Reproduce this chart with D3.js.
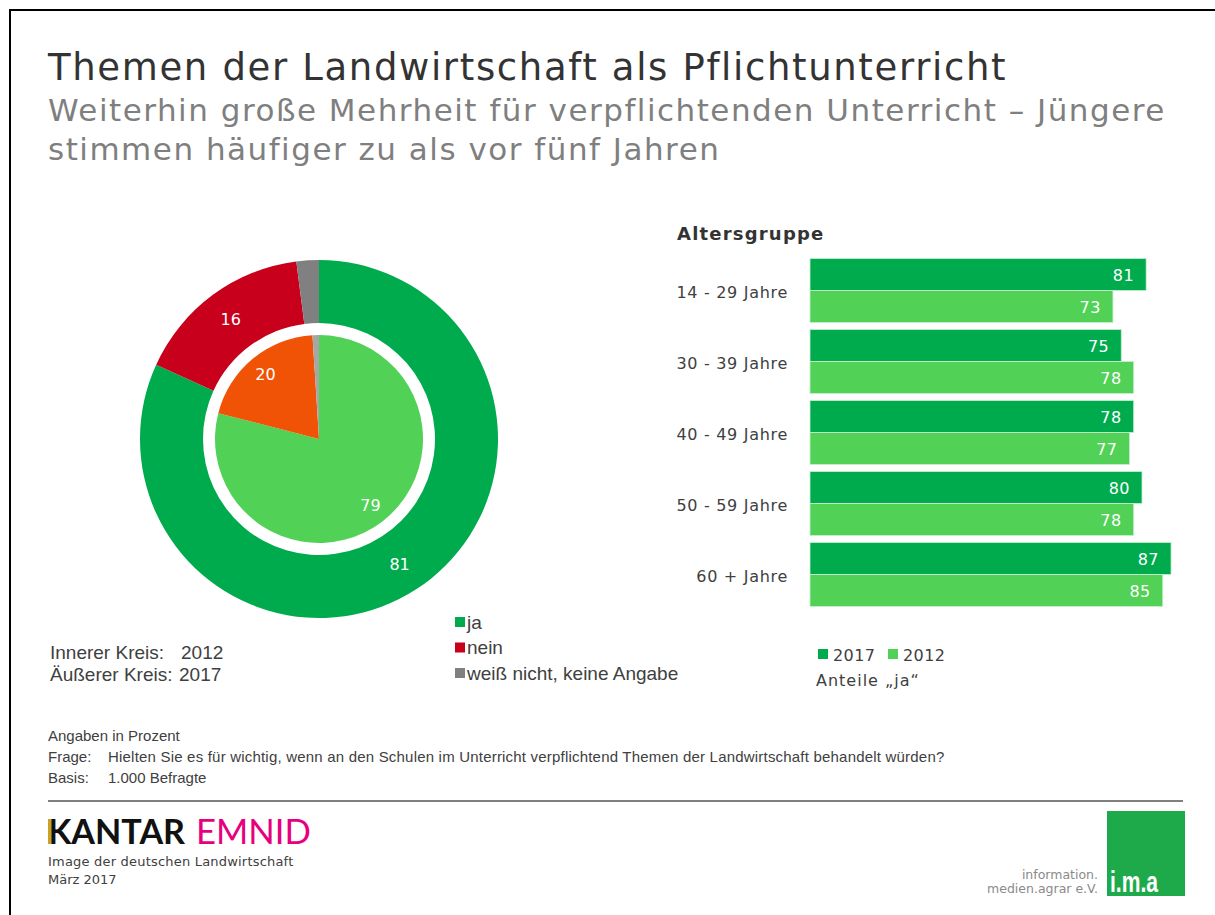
<!DOCTYPE html>
<html>
<head>
<meta charset="utf-8">
<script src="https://cdn.jsdelivr.net/npm/d3@7"></script>
<style>
  body { margin: 0; background: #fff; }
  svg { display: block; }
  .arial { font-family: "Liberation Sans", Arial, sans-serif; }
</style>
</head>
<body>
<div id="chart"></div>
<script>
// --- data ---
const pieCategories = ["ja", "nein", "weiß nicht, keine Angabe"];
const outer2017 = [81, 16, 2];
const inner2012 = [79, 20, 1];

const ageGroups = ["14 - 29 Jahre", "30 - 39 Jahre", "40 - 49 Jahre", "50 - 59 Jahre", "60 + Jahre"];
const years = ["2017", "2012"];
const ja2017 = [81, 75, 78, 80, 87];
const ja2012 = [73, 78, 77, 78, 85];

const outerColors = ["#00AB4E", "#C8001C", "#808080"];
const innerColors = ["#51D155", "#F05305", "#A6A6A6"];
const barColors = { "2017": "#00AB4E", "2012": "#51D155" };

const W = 1215, H = 915;
const FONT = "'DejaVu Sans', Verdana, sans-serif";

const svg = d3.select("#chart").append("svg").attr("width", W).attr("height", H)
  .style("font-family", FONT);

// frame (only top and left visible)
svg.append("path").attr("d", `M10,${H + 5} V10 H${W + 5}`)
  .attr("fill", "none").attr("stroke", "#000").attr("stroke-width", 2);

// title
svg.append("text").attr("x", 48).attr("y", 80).attr("font-size", 37).attr("fill", "#333")
  .attr("letter-spacing", 1.65).text("Themen der Landwirtschaft als Pflichtunterricht");
svg.append("text").attr("x", 48).attr("y", 121).attr("font-size", 31).attr("fill", "#7f7f7f")
  .attr("letter-spacing", 1.5).text("Weiterhin große Mehrheit für verpflichtenden Unterricht – Jüngere");
svg.append("text").attr("x", 48).attr("y", 160).attr("font-size", 31).attr("fill", "#7f7f7f")
  .attr("letter-spacing", 1.5).text("stimmen häufiger zu als vor fünf Jahren");

/* ========== PIE / DONUT ========== */
const cx = 319, cy = 439;
const pie = d3.pie().sort(null).value((d) => d.v);
const gPie = svg.append("g").attr("transform", `translate(${cx},${cy})`);

const outerArc = d3.arc().innerRadius(116).outerRadius(179);
const innerArc = d3.arc().innerRadius(0).outerRadius(104);
const outerLabelArc = d3.arc().innerRadius(149).outerRadius(149);
const innerLabelArc = d3.arc().innerRadius(84).outerRadius(84);

const outerData = pie(outer2017.map((v, i) => ({ v, i })));
const innerData = pie(inner2012.map((v, i) => ({ v, i })));

gPie.selectAll("path.outer").data(outerData).enter().append("path")
  .attr("class", "outer").attr("d", outerArc).attr("fill", (d) => outerColors[d.data.i]);
gPie.selectAll("path.inner").data(innerData).enter().append("path")
  .attr("class", "inner").attr("d", innerArc).attr("fill", (d) => innerColors[d.data.i]);

gPie.selectAll("text.outer").data(outerData.filter((d) => d.data.v >= 5)).enter().append("text")
  .attr("transform", (d) => `translate(${outerLabelArc.centroid(d)})`)
  .attr("text-anchor", "middle").attr("dy", "0.36em")
  .attr("font-size", 16).attr("fill", "#fff").text((d) => d.data.v);
gPie.selectAll("text.inner").data(innerData.filter((d) => d.data.v >= 5)).enter().append("text")
  .attr("transform", (d) => `translate(${innerLabelArc.centroid(d)})`)
  .attr("text-anchor", "middle").attr("dy", "0.36em")
  .attr("font-size", 16).attr("fill", "#fff").text((d) => d.data.v);

// pie legend
const pieLeg = svg.append("g").attr("class", "arial");
pieCategories.forEach((c, i) => {
  const y = 622 + i * 25.5;
  pieLeg.append("rect").attr("x", 455).attr("y", y - 5).attr("width", 10).attr("height", 10)
    .attr("fill", outerColors[i]);
  pieLeg.append("text").attr("x", 467).attr("y", y + 6.5).attr("font-size", 19).attr("fill", "#404040")
    .text(c);
});

const ringLeg = svg.append("g").attr("class", "arial").attr("font-size", 19).attr("fill", "#404040");
ringLeg.append("text").attr("x", 50).attr("y", 659).text("Innerer Kreis:");
ringLeg.append("text").attr("x", 181).attr("y", 659).text("2012");
ringLeg.append("text").attr("x", 50).attr("y", 681).text("Äußerer Kreis:");
ringLeg.append("text").attr("x", 179).attr("y", 681).text("2017");

/* ========== BARS ========== */
const x = d3.scaleLinear().domain([0, 100]).range([810, 810 + 415]);
const y0 = d3.scaleBand().domain(ageGroups).range([258.5, 258.5 + 5 * 71 - 7])
  .paddingInner(7 / 71).paddingOuter(0);
const y1 = d3.scaleBand().domain(years).range([0, y0.bandwidth()]);

svg.append("text").attr("x", 677).attr("y", 240).attr("font-size", 18).attr("font-weight", "bold")
  .attr("letter-spacing", 1.2).attr("fill", "#333").text("Altersgruppe");

const barRows = ageGroups.map((g, i) => ({ group: g, values: [
  { year: "2017", v: ja2017[i] },
  { year: "2012", v: ja2012[i] },
] }));

const groups = svg.selectAll("g.grp").data(barRows).enter().append("g")
  .attr("class", "grp").attr("transform", (d) => `translate(0,${y0(d.group)})`);

groups.append("text")
  .attr("x", 788).attr("y", y0.bandwidth() / 2 + 1.5).attr("dy", "0.36em")
  .attr("text-anchor", "end").attr("font-size", 16).attr("letter-spacing", 0.7).attr("fill", "#404040")
  .text((d) => d.group);

groups.selectAll("rect").data((d) => d.values).enter().append("rect")
  .attr("x", x(0))
  .attr("y", (d) => y1(d.year))
  .attr("width", (d) => x(d.v) - x(0))
  .attr("height", y1.bandwidth())
  .attr("fill", (d) => barColors[d.year])
  .attr("stroke", "#c9efd3").attr("stroke-width", 0.8);

groups.selectAll("text.val").data((d) => d.values).enter().append("text")
  .attr("class", "val")
  .attr("x", (d) => x(d.v) - 12)
  .attr("y", (d) => y1(d.year) + y1.bandwidth() / 2 + 0.5).attr("dy", "0.36em")
  .attr("text-anchor", "end").attr("font-size", 16).attr("letter-spacing", 0.5).attr("fill", "#fff")
  .text((d) => d.v);

// bar legend
years.forEach((yr, i) => {
  const lx = 818 + i * 70;
  svg.append("rect").attr("x", lx).attr("y", 649).attr("width", 10).attr("height", 10)
    .attr("fill", barColors[yr]);
  svg.append("text").attr("x", lx + 15).attr("y", 661).attr("font-size", 16).attr("letter-spacing", 0.4)
    .attr("fill", "#404040").text(yr);
});
svg.append("text").attr("x", 816).attr("y", 686).attr("font-size", 16).attr("letter-spacing", 1)
  .attr("fill", "#404040").text("Anteile „ja“");

/* ========== FOOTNOTES ========== */
const foot = svg.append("g").attr("class", "arial").attr("font-size", 15).attr("fill", "#404040");
foot.append("text").attr("x", 48).attr("y", 741).text("Angaben in Prozent");
foot.append("text").attr("x", 48).attr("y", 762).text("Frage:");
foot.append("text").attr("x", 108).attr("y", 762).attr("letter-spacing", 0.2)
  .text("Hielten Sie es für wichtig, wenn an den Schulen im Unterricht verpflichtend Themen der Landwirtschaft behandelt würden?");
foot.append("text").attr("x", 48).attr("y", 783).text("Basis:");
foot.append("text").attr("x", 108).attr("y", 783).text("1.000 Befragte");

svg.append("line").attr("x1", 48).attr("x2", 1183).attr("y1", 801).attr("y2", 801)
  .attr("stroke", "#555").attr("stroke-width", 1.5);

// Kantar Emnid logo
svg.append("text").attr("x", 48).attr("y", 844).attr("font-size", 35).attr("font-weight", "bold")
  .attr("fill", "#111").style("font-family", "Lato, 'Liberation Sans', sans-serif")
  .attr("textLength", 137).attr("lengthAdjust", "spacingAndGlyphs").text("KANTAR");
svg.append("rect").attr("x", 48).attr("y", 819).attr("width", 3.5).attr("height", 25).attr("fill", "#C9A227");
svg.append("text").attr("x", 196).attr("y", 844).attr("font-size", 35)
  .attr("fill", "#E6007E").style("font-family", "Lato, 'Liberation Sans', sans-serif")
  .attr("textLength", 115).attr("lengthAdjust", "spacingAndGlyphs").text("EMNID");
svg.append("text").attr("x", 48).attr("y", 866).attr("font-size", 13).attr("letter-spacing", 0.2)
  .attr("fill", "#404040").text("Image der deutschen Landwirtschaft");
svg.append("text").attr("x", 48).attr("y", 884).attr("font-size", 13).attr("fill", "#404040")
  .text("März 2017");

// i.m.a logo
svg.append("rect").attr("x", 1107).attr("y", 811).attr("width", 78).attr("height", 85).attr("fill", "#1EAA4B");
svg.append("text").attr("x", 1110).attr("y", 892).attr("font-size", 29).attr("font-weight", "bold")
  .attr("fill", "#fff").style("font-family", "'Liberation Sans', Arial, sans-serif")
  .attr("textLength", 48).attr("lengthAdjust", "spacingAndGlyphs").text("i.m.a");
svg.append("text").attr("x", 1098).attr("y", 879).attr("text-anchor", "end").attr("font-size", 12.5)
  .attr("fill", "#8a8a8a").text("information.");
svg.append("text").attr("x", 1098).attr("y", 893).attr("text-anchor", "end").attr("font-size", 12.5)
  .attr("fill", "#8a8a8a").text("medien.agrar e.V.");
</script>
</body>
</html>
